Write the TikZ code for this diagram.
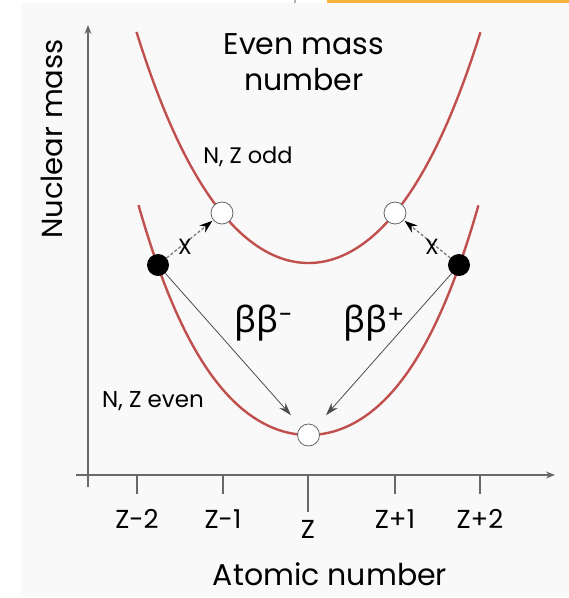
\documentclass[tikz,border=0pt]{standalone}
\usepackage{fontspec}
\setmainfont{Poppins}
\newfontfamily\greekfont{Noto Sans}
\usetikzlibrary{arrows.meta}
\definecolor{curvered}{RGB}{192,80,77}
\definecolor{bggray}{RGB}{249,249,249}
\definecolor{axisgray}{RGB}{105,105,105}
\definecolor{topbar}{RGB}{251,176,59}
\begin{document}
\begin{tikzpicture}[x=1pt,y=-1pt,
  axis/.style={draw=axisgray,line width=1.4pt},
  tick/.style={draw=axisgray,line width=1.2pt},
  curve/.style={draw=curvered,line width=2.4pt},
  opencirc/.style={circle,draw=gray!80!black,fill=white,minimum size=22pt,inner sep=0pt,line width=0.8pt},
  fullcirc/.style={circle,fill=black,minimum size=22pt,inner sep=0pt},
  betaarrow/.style={draw=black!70,line width=0.8pt,-{Stealth[length=13pt,width=8pt]},shorten >=15pt},
  xarrow/.style={draw=black!55,line width=1.2pt,dash pattern=on 3pt off 2pt,-{Stealth[length=13pt,width=9pt,black]},shorten >=1pt},
  lbl/.style={inner sep=0pt,text=black},
]
\useasboundingbox (0,0) rectangle (569,598);
\fill[white] (0,0) rectangle (569,598);
\fill[bggray] (21,3) rectangle (569,596);
\fill[topbar] (327,0) rectangle (569,3);
\fill[black!30] (294,0) rectangle (296,3);

% axes
\coordinate (yb) at (88,487);
\coordinate (yt) at (88,25);
\coordinate (xl) at (76,475);
\coordinate (xr) at (555,475);
\draw[axis,-{Stealth[length=9pt,width=7pt]}] (yb) -- (yt);
\draw[axis,-{Stealth[length=9pt,width=7pt]}] (xl) -- (xr);

% ticks
\foreach \n/\xx/\yy in {a/137/494, b/223/494, c/308/512, d/395/494, e/480/494}{
  \coordinate (t\n0) at (\xx,475);
  \coordinate (t\n1) at (\xx,\yy);
  \draw[tick] (t\n0) -- (t\n1);
}
\node[lbl,font=\fontsize{26}{28}\selectfont] (la) at (137,519) {Z-2};
\node[lbl,font=\fontsize{26}{28}\selectfont] (lb) at (223,519) {Z-1};
\node[lbl,font=\fontsize{26}{28}\selectfont] (lc) at (308,529) {Z};
\node[lbl,font=\fontsize{26}{28}\selectfont] (ld) at (395,519) {Z+1};
\node[lbl,font=\fontsize{26}{28}\selectfont] (le) at (480,519) {Z+2};

\node[lbl,font=\fontsize{30}{32}\selectfont] (xlab) at (330,574) {Atomic number};
\node[lbl,font=\fontsize{29}{31}\selectfont,rotate=90] (ylab) at (52,139) {Nuclear mass};

% curves
\draw[curve] plot[domain=-1.72:1.72,samples=120,smooth] ({308.5+100*\x},{263-(63*\x*\x+5.1*\x*\x*\x*\x)});
\draw[curve] plot[domain=-1.70:1.70,samples=120,smooth] ({308.5+100*\x},{435-(55.86*\x*\x+8.2*\x*\x*\x*\x)});

% texts
\node[lbl,font=\fontsize{30}{32}\selectfont] (t1) at (304,44) {Even mass};
\node[lbl,font=\fontsize{30}{32}\selectfont] (t2) at (304,80) {number};
\node[lbl,font=\fontsize{22.5}{24}\selectfont] (odd) at (248,157) {N, Z odd};
\node[lbl,font=\fontsize{23}{25}\selectfont] (even) at (153,401) {N, Z even};

% circles
\node[opencirc] (wl) at (222,213) {};
\node[opencirc] (wr) at (395,213) {};
\node[fullcirc] (bl) at (158,265) {};
\node[fullcirc] (br) at (459,265) {};
\node[opencirc] (bot) at (308.5,435) {};

% arrows
\draw[xarrow] (bl) -- (wl);
\draw[xarrow] (br) -- (wr);
\node[lbl,font=\fontsize{22}{24}\selectfont] (x1) at (185,247) {X};
\node[lbl,font=\fontsize{22}{24}\selectfont] (x2) at (432,247) {X};
\draw[betaarrow] (bl) -- (bot);
\draw[betaarrow] (br) -- (bot);

\node[lbl,font=\fontsize{36}{38}\selectfont] (bm) at (264,323) {{\greekfont ββ}\textsuperscript{-}};
\node[lbl,font=\fontsize{36}{38}\selectfont] (bp) at (374,323) {{\greekfont ββ}\textsuperscript{+}};
\end{tikzpicture}
\end{document}
